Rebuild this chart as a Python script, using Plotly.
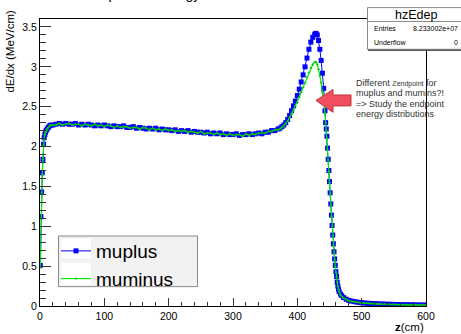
import plotly.graph_objects as go

# ---- data (bin centres in cm, dE/dx in MeV/cm) ----
z_rise = [0.5, 1.5, 2.5, 3.5, 4.5, 5.5, 6.5, 7.5, 8.5, 9.5, 11, 13, 15, 17, 20]
z_plateau = list(range(25, 370, 5))
z_peak = [370, 373, 376, 379, 382, 385, 388, 391, 394, 397, 400, 403, 406, 409,
          412, 415, 418, 421, 424, 427, 429, 431, 433, 435, 437, 439, 441, 443]
z_fall = list(range(444, 466))
z_tail = [467, 469, 472, 476] + list(range(480, 601, 4))

muplus_rise = [0.51, 1.12, 1.43, 1.67, 1.84, 2.03, 2.11, 2.15, 2.18, 2.20, 2.22, 2.24, 2.26, 2.27, 2.27]
muplus_plateau = [2.28, 2.29, 2.28, 2.29, 2.28, 2.28, 2.29, 2.27, 2.28, 2.27,
                  2.28, 2.27, 2.26, 2.27, 2.26, 2.27, 2.26, 2.25, 2.26, 2.25,
                  2.25, 2.26, 2.24, 2.24, 2.25, 2.23, 2.24, 2.23, 2.22, 2.23,
                  2.22, 2.23, 2.21, 2.22, 2.21, 2.21, 2.20, 2.21, 2.19, 2.20,
                  2.19, 2.20, 2.18, 2.19, 2.18, 2.18, 2.17, 2.18, 2.16, 2.17,
                  2.16, 2.17, 2.15, 2.16, 2.15, 2.15, 2.16, 2.14, 2.15, 2.15,
                  2.16, 2.15, 2.16, 2.17, 2.16, 2.18, 2.18, 2.20, 2.20]
muplus_peak = [2.22, 2.23, 2.25, 2.27, 2.30, 2.34, 2.39, 2.45, 2.51, 2.57, 2.64, 2.72, 2.81, 2.90,
               3.00, 3.11, 3.22, 3.31, 3.37, 3.41, 3.42, 3.40, 3.33, 3.22, 3.08, 2.92, 2.73, 2.45]
muplus_fall = [2.30, 2.22, 2.13, 1.98, 1.84, 1.70, 1.56, 1.42, 1.28, 1.14, 1.01,
               0.89, 0.78, 0.68, 0.59, 0.51, 0.43, 0.37, 0.30, 0.25, 0.21, 0.18]
muplus_tail = [0.15, 0.13, 0.105, 0.085, 0.07, 0.062, 0.055, 0.05, 0.045, 0.041, 0.038,
               0.035, 0.033, 0.031, 0.029, 0.027, 0.026, 0.024, 0.023, 0.022, 0.021,
               0.02, 0.019, 0.018, 0.017, 0.016, 0.015, 0.015, 0.014, 0.013, 0.013,
               0.012, 0.012, 0.011, 0.011]

muminus_rise = [0.48, 1.10, 1.42, 1.66, 1.84, 2.02, 2.10, 2.15, 2.18, 2.20, 2.22, 2.24, 2.26, 2.27, 2.27]
muminus_plateau = [2.27, 2.29, 2.27, 2.28, 2.29, 2.27, 2.28, 2.28, 2.26, 2.28,
                   2.27, 2.26, 2.28, 2.26, 2.27, 2.25, 2.27, 2.26, 2.24, 2.26,
                   2.24, 2.25, 2.25, 2.23, 2.24, 2.24, 2.22, 2.24, 2.23, 2.21,
                   2.23, 2.21, 2.22, 2.20, 2.22, 2.20, 2.21, 2.19, 2.20, 2.19,
                   2.20, 2.18, 2.19, 2.18, 2.17, 2.19, 2.16, 2.17, 2.17, 2.15,
                   2.17, 2.15, 2.16, 2.14, 2.16, 2.14, 2.15, 2.15, 2.13, 2.16,
                   2.14, 2.16, 2.15, 2.17, 2.17, 2.17, 2.19, 2.19, 2.21]
muminus_peak = [2.21, 2.22, 2.24, 2.26, 2.29, 2.32, 2.36, 2.41, 2.46, 2.51, 2.56, 2.62, 2.68, 2.74,
                2.80, 2.87, 2.93, 2.99, 3.03, 3.06, 3.06, 3.03, 2.97, 2.89, 2.80, 2.69, 2.57, 2.42]
muminus_fall = [2.30, 2.20, 2.10, 1.97, 1.83, 1.69, 1.55, 1.41, 1.27, 1.13, 1.00,
                0.88, 0.77, 0.67, 0.58, 0.50, 0.42, 0.36, 0.30, 0.25, 0.21, 0.18]
muminus_tail = [0.14, 0.12, 0.10, 0.08, 0.066, 0.058, 0.052, 0.047, 0.043, 0.039, 0.036,
                0.033, 0.031, 0.029, 0.027, 0.026, 0.024, 0.023, 0.022, 0.021, 0.02,
                0.019, 0.018, 0.017, 0.016, 0.015, 0.015, 0.014, 0.013, 0.013, 0.012,
                0.012, 0.011, 0.011, 0.01]

z_cm = z_rise + z_plateau + z_peak + z_fall + z_tail
muplus = muplus_rise + muplus_plateau + muplus_peak + muplus_fall + muplus_tail
muminus = muminus_rise + muminus_plateau + muminus_peak + muminus_fall + muminus_tail
assert len(z_cm) == len(muplus) == len(muminus), (len(z_cm), len(muplus), len(muminus))

x_ticks = [0, 100, 200, 300, 400, 500, 600]
y_ticks = [0, 0.5, 1, 1.5, 2, 2.5, 3, 3.5]

FONT = "Liberation Sans, Arial, Helvetica, sans-serif"
W, H = 461, 334
ML, MR, MT, MB = 40, 35, 19, 26
PW, PH = W - ML - MR, H - MT - MB


def X(px):
    return (px - ML) / PW


def Y(py):
    return (H - MB - py) / PH


fig = go.Figure()
fig.add_trace(go.Scatter(
    x=z_cm, y=muplus, name="muplus", mode="lines+markers",
    line=dict(color="#0000ff", width=1),
    marker=dict(symbol="square", size=5, color="#0000ff", line=dict(width=0)),
))
fig.add_trace(go.Scatter(
    x=z_cm, y=muminus, name="muminus", mode="lines+markers",
    line=dict(color="#00ee00", width=1.2),
    marker=dict(symbol="triangle-up", size=3, color="#00cc00", line=dict(width=0)),
))

axis_common = dict(
    showline=True, mirror=True, linecolor="#000000", linewidth=1,
    showgrid=False, zeroline=False, ticks="inside", tickcolor="#333333",
    tickfont=dict(family=FONT, size=10.5, color="#000000"),
)
fig.update_xaxes(range=[0, 600], tickvals=x_ticks, ticklen=8,
                 minor=dict(dtick=20, ticklen=4, ticks="inside", tickcolor="#333333"),
                 **axis_common)
fig.update_yaxes(range=[0, 3.6], tickvals=y_ticks, ticklen=11,
                 minor=dict(dtick=0.1, ticklen=6, ticks="inside", tickcolor="#333333"),
                 **axis_common)

shapes = []
# legend frame and swatch backgrounds
shapes.append(dict(type="rect", xref="paper", yref="paper",
                   x0=X(58.5), x1=X(197.5), y0=Y(288.5), y1=Y(237.5),
                   fillcolor="#f2f2f2", line=dict(color="#8a8a8a", width=1)))
shapes.append(dict(type="rect", xref="paper", yref="paper",
                   x0=X(61.5), x1=X(91), y0=Y(260), y1=Y(240.5),
                   fillcolor="#ffffff", line=dict(width=0)))
shapes.append(dict(type="rect", xref="paper", yref="paper",
                   x0=X(61.5), x1=X(91), y0=Y(286.5), y1=Y(264.5),
                   fillcolor="#ffffff", line=dict(width=0)))
# red block arrow
pts = [(316, 101), (333, 90), (333, 95.5), (351, 95.5), (351, 106.5), (333, 106.5), (333, 113)]
path = "M " + " L ".join(f"{X(a):.5f},{Y(b):.5f}" for a, b in pts) + " Z"
shapes.append(dict(type="path", xref="paper", yref="paper", path=path,
                   fillcolor="#f0505e", line=dict(color="#c0303c", width=1)))
# stats box
shapes.append(dict(type="rect", xref="paper", yref="paper",
                   x0=X(367.5), x1=X(480), y0=Y(49.5), y1=Y(7.5),
                   fillcolor="#ffffff", line=dict(color="#8a8a8a", width=1)))
shapes.append(dict(type="line", xref="paper", yref="paper",
                   x0=X(367.5), x1=X(480), y0=Y(21.5), y1=Y(21.5),
                   line=dict(color="#8a8a8a", width=1)))
shapes.append(dict(type="line", xref="paper", yref="paper",
                   x0=X(368), x1=X(480), y0=Y(50.5), y1=Y(50.5),
                   line=dict(color="#555555", width=1.5)))

ann = []
# partially clipped title
ann.append(dict(x=X(52), y=Y(4), xref="paper", yref="paper", xanchor="left", yanchor="bottom",
                text="Muon deposited energy", showarrow=False,
                font=dict(family=FONT, size=14, color="#000000")))
# axis titles
ann.append(dict(x=X(10), y=Y(8), xref="paper", yref="paper", xanchor="center", yanchor="top",
                text="dE/dx (MeV/cm)", textangle=-90, showarrow=False,
                font=dict(family=FONT, size=11.5, color="#000000")))
ann.append(dict(x=X(426), y=Y(329), xref="paper", yref="paper", xanchor="right", yanchor="middle",
                text="<b>z</b>(cm)", showarrow=False,
                font=dict(family=FONT, size=11.5, color="#000000")))
# stats texts
ann.append(dict(x=X(416), y=Y(14.5), xref="paper", yref="paper", xanchor="center", yanchor="middle",
                text="hzEdep", showarrow=False, font=dict(family=FONT, size=12.5, color="#000000")))
ann.append(dict(x=X(372), y=Y(28.5), xref="paper", yref="paper", xanchor="left", yanchor="middle",
                text="Entries", showarrow=False, font=dict(family=FONT, size=7, color="#000000")))
ann.append(dict(x=X(460), y=Y(28.5), xref="paper", yref="paper", xanchor="right", yanchor="middle",
                text="8.233002e+07", showarrow=False, font=dict(family=FONT, size=7, color="#000000")))
ann.append(dict(x=X(372), y=Y(42.5), xref="paper", yref="paper", xanchor="left", yanchor="middle",
                text="Underflow", showarrow=False, font=dict(family=FONT, size=7, color="#000000")))
ann.append(dict(x=X(460), y=Y(42.5), xref="paper", yref="paper", xanchor="right", yanchor="middle",
                text="0", showarrow=False, font=dict(family=FONT, size=7, color="#000000")))
# comment text
lines = ['Different <span style="font-size:7px">Zendpoint</span> for',
         "muplus and mumins?!",
         "=> Study the endpoint",
         "energy distributions"]
for i, t in enumerate(lines):
    ann.append(dict(x=X(354), y=Y(83.5 + 10.4 * i), xref="paper", yref="paper",
                    xanchor="left", yanchor="middle", text=t, showarrow=False,
                    font=dict(family=FONT, size=9, color="#333333")))

fig.update_layout(
    width=W, height=H, margin=dict(l=ML, r=MR, t=MT, b=MB),
    paper_bgcolor="#ffffff", plot_bgcolor="#ffffff",
    font=dict(family=FONT, color="#000000"),
    shapes=shapes, annotations=ann,
    showlegend=True,
    legend=dict(x=X(56), y=Y(233.5), xanchor="left", yanchor="top",
                bgcolor="rgba(0,0,0,0)", borderwidth=0,
                font=dict(family=FONT, size=19, color="#000000"),
                itemwidth=30, tracegroupgap=0),
)

fig.write_html("out.html")
